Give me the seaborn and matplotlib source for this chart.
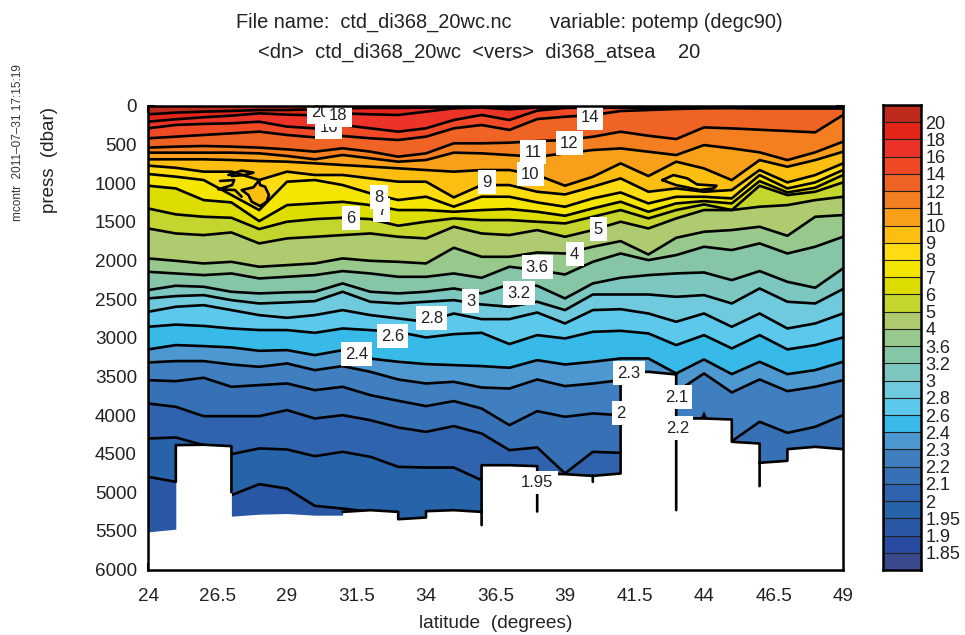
import numpy as np
import pandas as pd
import matplotlib
matplotlib.use("Agg")
import matplotlib.pyplot as plt
from matplotlib.colors import ListedColormap
import seaborn as sns

sns.set_theme(style="ticks")
plt.rcParams['font.family'] = ['Liberation Sans', 'DejaVu Sans']

latitudes = list(range(24, 50))

level_names = ['20', '18', '16', '14', '12', '11', '10', '9', '8', '7', '6', '5', '4', '3.6', '3.2', '3', '2.8',
               '2.6', '2.4', '2.3', '2.2', '2.1', '2', '1.95', '1.9', '1.85']

band_colors = ['#BE2A1C', '#E4261A', '#EC3328', '#EF4A25', '#EF6324', '#F37F21', '#F9A01B', '#FDBE12', '#FFDB11',
               '#F4E600', '#DDDD00', '#C4D52F', '#AECC6F', '#98C98C', '#86C5A6', '#7CC8C0', '#70CADD', '#5CC9EC',
               '#38BAE8', '#4E98D2', '#3F7EBF', '#3670B5', '#2F63AE', '#2763A9', '#2A56A6', '#2A49A0', '#3B4A8C']

d20 = [108, 86, 73, 64, 52, 52, 43, 30, 25, 25, 20, 15, 15, 15, 15, 15, 15, 15, 12, 12, 12, 12, 12, 12, 12, 12]
d18 = [203, 172, 146, 125, 95, 112, 120, 95, 108, 116, 73, 30, 20, 43, 20, 18, 18, 18, 18, 18, 18, 18, 25, 25, 25, 25]
d16 = [289, 245, 232, 224, 203, 267, 289, 246, 289, 332, 289, 181, 116, 181, 60, 25, 22, 22, 22, 22, 22, 22, 28, 28, 28, 28]
d14 = [418, 397, 375, 354, 332, 375, 406, 388, 418, 440, 397, 289, 246, 310, 169, 139, 117, 65, 52, 39, 30, 28, 30, 30, 30, 30]
d12 = [539, 526, 518, 526, 539, 561, 591, 548, 591, 656, 613, 483, 483, 475, 454, 441, 398, 333, 385, 428, 277, 290, 307, 324, 341, 117]
d11 = [604, 604, 604, 604, 613, 647, 690, 634, 677, 721, 699, 604, 613, 635, 657, 613, 570, 549, 592, 635, 506, 549, 600, 700, 600, 462]
d10 = [690, 690, 690, 699, 712, 721, 742, 764, 785, 807, 829, 850, 829, 829, 894, 1032, 916, 743, 907, 721, 808, 959, 700, 786, 700, 592]
d9 = [772, 800, 850, 850, 958, 850, 893, 893, 937, 980, 980, 1183, 1023, 1024, 1110, 1145, 1045, 937, 1110, 1067, 1110, 1088, 829, 989, 894, 743]
d8 = [880, 915, 958, 1152, 1347, 980, 958, 1023, 1131, 1217, 1174, 1303, 1174, 1175, 1248, 1304, 1196, 1119, 1261, 1175, 1175, 1196, 894, 1067, 989, 829]
d7 = [1032, 1067, 1218, 1248, 1490, 1283, 1261, 1240, 1283, 1347, 1347, 1369, 1347, 1334, 1369, 1421, 1326, 1239, 1369, 1261, 1231, 1261, 972, 1119, 1058, 894]
d6 = [1326, 1403, 1434, 1447, 1593, 1498, 1464, 1447, 1464, 1550, 1498, 1455, 1477, 1477, 1498, 1520, 1434, 1347, 1455, 1347, 1274, 1347, 1032, 1153, 1110, 989]
d5 = [1585, 1650, 1671, 1637, 1779, 1714, 1693, 1671, 1650, 1693, 1714, 1563, 1650, 1671, 1606, 1693, 1606, 1498, 1585, 1455, 1347, 1347, 1304, 1283, 1218, 1175]
d4 = [1973, 2004, 2038, 2017, 2081, 2060, 2038, 1973, 2004, 2017, 2038, 1835, 1952, 1952, 1896, 1909, 1822, 1749, 1922, 1706, 1628, 1606, 1563, 1680, 1434, 1412]
d36 = [2146, 2168, 2189, 2168, 2232, 2211, 2189, 2137, 2168, 2211, 2211, 2168, 2224, 2081, 2124, 2181, 2017, 1909, 1995, 1930, 1822, 1865, 1779, 1909, 1822, 1693]
d32 = [2383, 2327, 2340, 2405, 2426, 2413, 2405, 2297, 2405, 2426, 2405, 2362, 2426, 2310, 2327, 2491, 2297, 2224, 2189, 2167, 2155, 2254, 2137, 2276, 2353, 2103]
d3 = [2491, 2461, 2448, 2513, 2556, 2543, 2526, 2405, 2534, 2556, 2534, 2513, 2569, 2599, 2534, 2642, 2440, 2440, 2440, 2470, 2448, 2556, 2362, 2534, 2556, 2370]
d28 = [2664, 2599, 2578, 2642, 2707, 2742, 2707, 2642, 2707, 2750, 2793, 2686, 2759, 2759, 2673, 2815, 2642, 2630, 2686, 2793, 2686, 2858, 2686, 2880, 2815, 2686]
d26 = [2858, 2830, 2847, 2880, 2900, 2901, 2936, 2880, 2901, 2925, 2996, 2953, 2936, 3082, 2966, 3009, 2923, 2910, 2944, 3095, 2966, 3138, 2966, 3151, 3095, 2996]
d24 = [3151, 3095, 3108, 3125, 3169, 3160, 3225, 3160, 3270, 3311, 3341, 3354, 3367, 3389, 3290, 3346, 3311, 3268, 3268, 3462, 3281, 3471, 3311, 3471, 3419, 3311]
d23 = [3320, 3302, 3302, 3346, 3376, 3333, 3419, 3367, 3441, 3540, 3592, 3570, 3644, 3657, 3540, 3626, 3592, 3549, 3500, 3700, 3462, 3708, 3540, 3691, 3635, 3549]
d22 = [3549, 3562, 3518, 3635, 3613, 3592, 3678, 3635, 3743, 3816, 3885, 3820, 3916, 4131, 3950, 4023, 3980, 4002, 4000, 4060, 4050, 4340, 4088, 4231, 4153, 4002]
d21 = [3851, 3894, 4015, 4015, 4015, 3937, 4045, 4002, 4067, 4162, 4218, 4144, 4239, 4455, 4420, 4757, 4477, 4490, 4500, 4500, 4500, 4500, 5000, 5000, 5000, 5000]
d2 = [4304, 4291, 4390, 4507, 4433, 4446, 4533, 4477, 4541, 4671, 4680, 4680, 4844, 5000, 5000, 5000, 5000, 5000, 5000, 5000, 5000, 5000, 5000, 5000, 5000, 5000]
d195 = [4800, 4865, 5038, 5038, 4895, 4952, 5176, 5211, 5254, 5400, 5400, 5400, 5400, 5400, 5400, 5400, 5400, 5400, 5400, 5400, 5400, 5400, 5400, 5400, 5400, 5400]
d19 = [5700] * 26
d185 = [5850] * 26

level_depths = [d20, d18, d16, d14, d12, d11, d10, d9, d8, d7, d6, d5, d4, d36, d32, d3, d28, d26, d24, d23, d22,
                d21, d2, d195, d19, d185]

# small closed or folded isotherms that a depth-per-station table cannot hold
blob_lat = [28.0, 28.03, 28.21, 28.35, 28.27, 28.03, 27.73, 27.61, 27.37, 27.79, 27.91, 28.0]
blob_depth = [960, 1023, 1044, 1152, 1239, 1295, 1239, 1152, 1088, 1053, 1001, 960]
island_lat = [42.5, 42.9, 43.4, 43.75, 44.45, 44.35, 43.85, 43.0, 42.5]
island_depth = [959, 894, 937, 1015, 1032, 1067, 1088, 1024, 959]
fold_a_lat = [26.89, 27.37, 27.79, 27.49, 27.01]
fold_a_depth = [893, 837, 863, 893, 906]
fold_b_lat = [26.59, 27.1, 27.03, 26.53, 27.13, 27.37]
fold_b_depth = [971, 958, 1023, 1079, 1088, 1174]
bump_lat = [43.88, 44.0, 44.12]
bump_depth = [4045, 3950, 4045]

bottom_lat = [24, 25, 25, 26, 27, 27, 28, 29, 30, 31, 31, 32, 33, 33, 34, 34, 35, 36, 36, 37, 38, 38, 39, 40, 41, 41,
              42, 43, 43, 44, 45, 45, 46, 46, 47, 47, 48, 49]
bottom_depth = [5513, 5478, 4390, 4385, 4403, 5310, 5284, 5275, 5297, 5297, 5254, 5232, 5254, 5349, 5327, 5245, 5232,
                5254, 4650, 4650, 4662, 4757, 4766, 4788, 4757, 3454, 3441, 3475, 4045, 4045, 4058, 4347, 4369, 4619,
                4593, 4442, 4412, 4442]

edge_lat = [25, 25, 26, 27, 27, np.nan, 31, 32, 33, 33, 34, 34, 35, 36, np.nan, 36, 36, 37, 38, 38, np.nan, 38, 39, 40,
            41, 41, np.nan, 40, 40, np.nan, 41, 42, 43, np.nan, 43, 43, np.nan, 43, 44, 45, 45, 46, 46, np.nan, 46, 47, 47, 48, 49]
edge_depth = [4865, 4390, 4385, 4403, 5000, np.nan, 5254, 5232, 5254, 5349, 5327, 5245, 5232, 5254, np.nan, 5426, 4650,
              4650, 4662, 5250, np.nan, 4757, 4766, 4788, 4757, 3454, np.nan, 4788, 4865, np.nan, 3454, 3441, 3475,
              np.nan, 3475, 5232, np.nan, 4045, 4045, 4058, 4347, 4369, 4921, np.nan, 4619, 4593, 4442, 4412, 4442]

label_text = ['16', '20', '18', '14', '12', '11', '10', '9', '7', '8', '6', '5', '4', '3.6', '3.2', '3', '2.8', '2.6',
              '2.4', '2.3', '2.1', '2.2', '2', '1.95']
label_lat = [30.5, 30.2, 30.85, 39.9, 39.15, 37.85, 37.75, 36.2, 32.4, 32.3, 31.3, 40.2, 39.35, 38.0, 37.35, 35.6,
             34.2, 32.8, 31.5, 41.3, 43.0, 43.05, 41.0, 38.0]
label_depth = [272, 78, 117, 155, 479, 596, 881, 984, 1347, 1178, 1450, 1593, 1917, 2085, 2422, 2525, 2745, 2979,
               3212, 3458, 3769, 4170, 3975, 4870]

x_ticks = [24, 26.5, 29, 31.5, 34, 36.5, 39, 41.5, 44, 46.5, 49]
x_tick_labels = ['24', '26.5', '29', '31.5', '34', '36.5', '39', '41.5', '44', '46.5', '49']
y_ticks = [0, 500, 1000, 1500, 2000, 2500, 3000, 3500, 4000, 4500, 5000, 5500, 6000]

W, H = 965, 635
fig = plt.figure(figsize=(W / 100, H / 100), dpi=100, facecolor='white')
ax = fig.add_axes([148 / W, 1 - 569.5 / H, (843 - 148) / W, (569.5 - 106) / H])
cax = fig.add_axes([883 / W, 1 - 570 / H, 38 / W, (570 - 105) / H])

# filled bands between isotherms
upper = [np.zeros(26)] + [np.array(d, float) for d in level_depths]
lower = [np.array(d, float) for d in level_depths] + [np.full(26, 6000.0)]
for up, lo, col in zip(upper, lower, band_colors):
    ax.fill_between(latitudes, up, lo, color=col, lw=0, zorder=1)
ax.fill(blob_lat, blob_depth, color=band_colors[7], lw=0, zorder=1.5)
ax.fill(island_lat, island_depth, color=band_colors[8], lw=0, zorder=1.5)

# isotherm lines
rows = [(name, la, d) for name, depths in zip(level_names[:24], level_depths[:24])
        for la, d in zip(latitudes, depths)]
lines = pd.DataFrame(rows, columns=['level', 'lat', 'depth'])
LW = 1.9
sns.lineplot(data=lines, x='lat', y='depth', units='level', estimator=None, color='black', lw=LW, ax=ax,
             legend=False, zorder=2)
for xs, ys in [(blob_lat, blob_depth), (island_lat, island_depth), (fold_a_lat, fold_a_depth),
               (fold_b_lat, fold_b_depth)]:
    sns.lineplot(x=xs, y=ys, sort=False, estimator=None, color='black', lw=LW, ax=ax, legend=False, zorder=2)

# sea floor mask
ax.fill_between(bottom_lat, bottom_depth, 6000, color='white', lw=0, zorder=3)
ax.plot(edge_lat, edge_depth, color='black', lw=LW, zorder=4)
ax.fill(bump_lat, bump_depth, color='black', lw=0, zorder=4)

for t, la, d in zip(label_text, label_lat, label_depth):
    ax.text(la, d, t, ha='center', va='center', fontsize=12, color='#222222', zorder=5,
            bbox=dict(facecolor='white', edgecolor='none', pad=3))

ax.set_xlim(24, 49)
ax.set_ylim(6000, 0)
ax.set_xticks(x_ticks, x_tick_labels)
ax.set_yticks(y_ticks)
ax.tick_params(direction='in', top=True, right=True, length=5, width=1.5, labelsize=13.6, color='black',
               labelcolor='#222222', zorder=6)
ax.tick_params(axis='x', pad=13)
ax.tick_params(axis='y', pad=8)
for s in ax.spines.values():
    s.set_linewidth(1.8)
    s.set_color('black')
    s.set_zorder(7)
ax.set_xlabel('latitude  (degrees)', fontsize=13.8, color='#222222')
ax.xaxis.set_label_coords((496 - 148) / (843 - 148), -(624 - 569.5) / (569.5 - 106), transform=ax.transAxes)
ax.xaxis.label.set_va('center')
ax.set_ylabel('press  (dbar)', fontsize=13.5, color='#222222')
ax.yaxis.set_label_coords((50 - 148) / (843 - 148), (569.5 - 160) / (569.5 - 106), transform=ax.transAxes)
ax.yaxis.label.set_va('center')

# colour key
key = pd.DataFrame(np.arange(27)[:, None])
sns.heatmap(key, cmap=ListedColormap(band_colors), cbar=False, ax=cax, xticklabels=False, linewidths=0)
for y in range(1, 27):
    cax.axhline(y, color='#222222', lw=0.8)
cax.set_ylim(27, 0)
cax.set_yticks(np.arange(1, 27), level_names, rotation=0)
cax.yaxis.tick_right()
cax.tick_params(axis='y', direction='in', left=True, right=True, length=3, width=1.2, labelsize=13, pad=3,
                labelcolor='#222222')
cax.set_xlabel('')
cax.set_ylabel('')
for s in cax.spines.values():
    s.set_visible(True)
    s.set_linewidth(1.8)
    s.set_color('black')

fig.text(509 / W, 1 - 22 / H, 'File name:  ctd_di368_20wc.nc       variable: potemp (degc90)', ha='center',
         va='center', fontsize=14.4, color='#222222')
fig.text(479 / W, 1 - 52 / H, '<dn>  ctd_di368_20wc  <vers>  di368_atsea    20', ha='center', va='center',
         fontsize=14.5, color='#222222')
fig.text(18 / W, 1 - 143 / H, 'mcontr  2011\u201307\u201331 17:15:19', rotation=90, ha='center', va='center',
         fontsize=8.5, color='#333333')

fig.savefig('out.png', dpi=100)
